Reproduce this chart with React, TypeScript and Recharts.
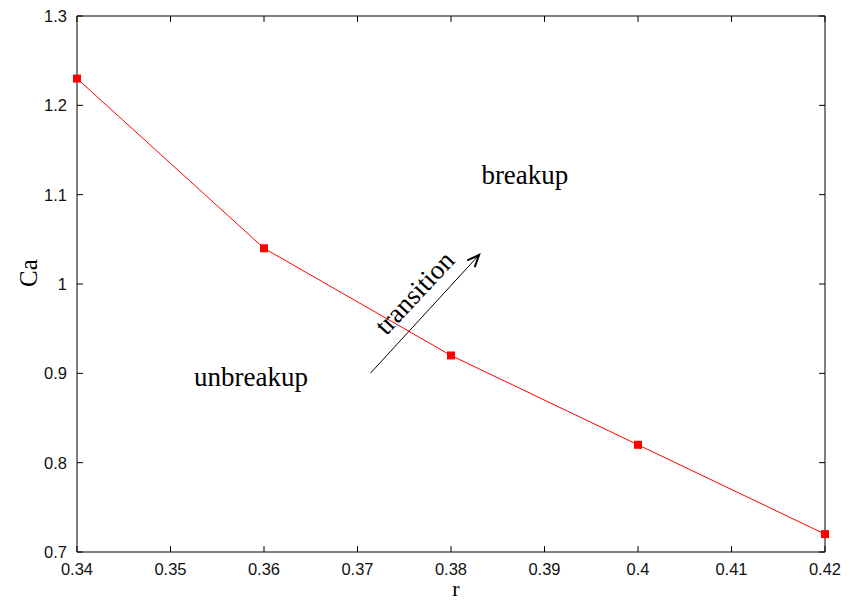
import React from "react"
import { LineChart, Line, XAxis, YAxis, ReferenceLine, ReferenceDot } from "recharts"

// values
const rValues = [0.34, 0.36, 0.38, 0.4, 0.42]
const caValues = [1.23, 1.04, 0.92, 0.82, 0.72]

const xTicks = [0.34, 0.35, 0.36, 0.37, 0.38, 0.39, 0.4, 0.41, 0.42]
const yTicks = [0.7, 0.8, 0.9, 1, 1.1, 1.2, 1.3]

// annotation anchors in data units
const arrowFrom = { x: 0.3714, y: 0.9003 }
const arrowTo = { x: 0.383, y: 1.0325 }
const breakupAt = { x: 0.3879, y: 1.1119 }
const unbreakupAt = { x: 0.3586, y: 0.8858 }
const transitionAt = { x: 0.3768, y: 0.9832 }

const data = rValues.map((r, i) => ({ r, ca: caValues[i] }))

const tickFont = "'Liberation Sans', Arial, Helvetica, sans-serif"
const serif = "'Liberation Serif', 'Times New Roman', Times, serif"
const fmt = (v: number) => String(Number(v.toFixed(2)))
const TICK = 6

const axisProps = {
  tickSize: 0,
  tickMargin: 0,
  tickLine: false,
  axisLine: { stroke: "#000" },
  interval: 0 as const,
}

const BottomTick = ({ x, y, payload }: any) => (
  <text x={x} y={y + 23} textAnchor="middle" fontFamily={tickFont} fontSize={16.5} fill="#111">
    {fmt(payload.value)}
  </text>
)

const LeftTick = ({ x, y, payload }: any) => (
  <text x={x - 10} y={y + 6} textAnchor="end" fontFamily={tickFont} fontSize={16.5} fill="#111">
    {fmt(payload.value)}
  </text>
)

const NoLabel = () => <g />

// inward tick marks at both ends of a full-span reference line (gnuplot mirror ticks)
const VTicks = (props: any) => {
  const { x1, y1, y2 } = props
  const lo = Math.max(y1, y2)
  const hi = Math.min(y1, y2)
  return (
    <g>
      <line x1={x1} y1={lo} x2={x1} y2={lo - TICK} stroke="#000" strokeWidth={1} />
      <line x1={x1} y1={hi} x2={x1} y2={hi + TICK} stroke="#000" strokeWidth={1} />
    </g>
  )
}

const HTicks = (props: any) => {
  const { x1, x2, y1 } = props
  const l = Math.min(x1, x2)
  const r = Math.max(x1, x2)
  return (
    <g>
      <line x1={l} y1={y1} x2={l + TICK} y2={y1} stroke="#000" strokeWidth={1} />
      <line x1={r} y1={y1} x2={r - TICK} y2={y1} stroke="#000" strokeWidth={1} />
    </g>
  )
}

const SquareDot = (props: any) => {
  const { cx, cy, index } = props
  return <rect key={index} x={cx - 4} y={cy - 4} width={8} height={8} fill="#ff0000" />
}

const Arrow = (props: any) => {
  const { x1, y1, x2, y2 } = props
  const a = Math.atan2(y2 - y1, x2 - x1)
  const len = 13
  const spread = 0.4
  const p1x = x2 - len * Math.cos(a - spread)
  const p1y = y2 - len * Math.sin(a - spread)
  const p2x = x2 - len * Math.cos(a + spread)
  const p2y = y2 - len * Math.sin(a + spread)
  return (
    <g>
      <line x1={x1} y1={y1} x2={x2} y2={y2} stroke="#000" strokeWidth={1} />
      <path d={`M${p1x},${p1y} L${x2},${y2} L${p2x},${p2y}`} fill="none" stroke="#000" strokeWidth={2} />
    </g>
  )
}

const Label = (text: string, rotate = 0) => (props: any) => {
  const { cx, cy } = props
  return (
    <text
      x={cx}
      y={cy}
      textAnchor="middle"
      fontFamily={serif}
      fontSize={27}
      fill="#000"
      transform={rotate ? `rotate(${rotate} ${cx} ${cy})` : undefined}
    >
      {text}
    </text>
  )
}

export default function App() {
  return (
    <div style={{ position: "absolute", left: 0, top: 0, width: 856, height: 600, background: "#fff" }}>
      <LineChart width={856} height={600} data={data} margin={{ top: 15, right: 30, bottom: 0, left: 0 }}>
        <XAxis
          dataKey="r"
          type="number"
          domain={[0.34, 0.42]}
          ticks={xTicks}
          height={48}
          tick={<BottomTick />}
          {...axisProps}
        />
        <XAxis
          xAxisId="top"
          orientation="top"
          dataKey="r"
          type="number"
          domain={[0.34, 0.42]}
          ticks={xTicks}
          height={1}
          tick={<NoLabel />}
          {...axisProps}
        />
        <YAxis type="number" domain={[0.7, 1.3]} ticks={yTicks} width={77} tick={<LeftTick />} {...axisProps} />
        <YAxis
          yAxisId="right"
          orientation="right"
          type="number"
          domain={[0.7, 1.3]}
          ticks={yTicks}
          width={1}
          tick={<NoLabel />}
          {...axisProps}
        />
        {xTicks.map((t) => (
          <ReferenceLine key={`xt${t}`} x={t} shape={VTicks} />
        ))}
        {yTicks.map((t) => (
          <ReferenceLine key={`yt${t}`} y={t} shape={HTicks} />
        ))}
        <Line
          dataKey="ca"
          stroke="#ff0000"
          strokeWidth={1}
          dot={SquareDot}
          activeDot={false}
          isAnimationActive={false}
        />
        <ReferenceLine segment={[arrowFrom, arrowTo]} shape={Arrow} ifOverflow="visible" />
        <ReferenceDot x={breakupAt.x} y={breakupAt.y} r={0} shape={Label("breakup")} ifOverflow="visible" />
        <ReferenceDot x={unbreakupAt.x} y={unbreakupAt.y} r={0} shape={Label("unbreakup")} ifOverflow="visible" />
        <ReferenceDot
          x={transitionAt.x}
          y={transitionAt.y}
          r={0}
          shape={Label("transition", -47)}
          ifOverflow="visible"
        />
      </LineChart>
      <svg width={856} height={600} style={{ position: "absolute", left: 0, top: 0, pointerEvents: "none" }}>
        <text x={456} y={596} textAnchor="middle" fontFamily={serif} fontSize={22} fill="#000">
          r
        </text>
        <text
          x={37}
          y={273}
          textAnchor="middle"
          fontFamily={serif}
          fontSize={25}
          fill="#000"
          transform="rotate(-90 37 273)"
        >
          Ca
        </text>
      </svg>
    </div>
  )
}
